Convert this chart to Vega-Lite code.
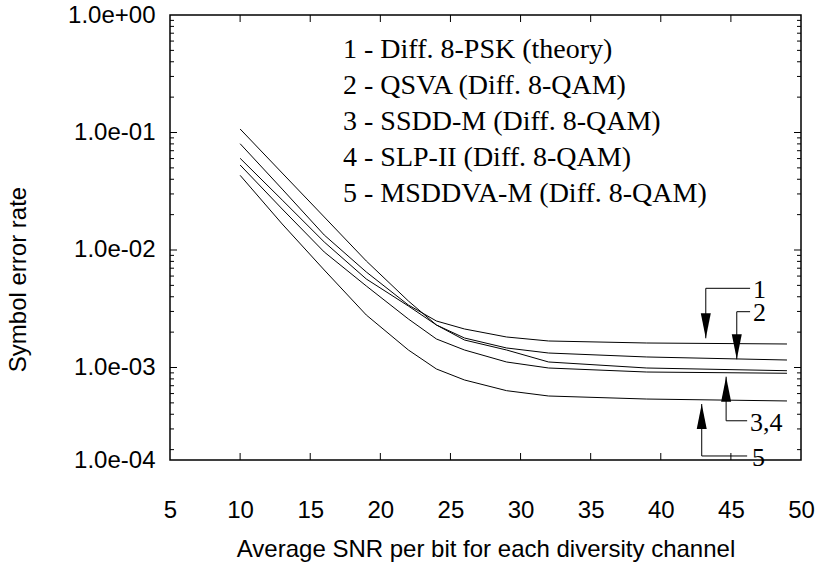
{
  "$schema": "https://vega.github.io/schema/vega-lite/v6.json",
  "width": 631,
  "height": 445,
  "autosize": {"type": "none"},
  "padding": {"left": 170, "top": 15, "right": 16, "bottom": 103},
  "background": "white",
  "config": {
    "view": {"stroke": "black", "strokeWidth": 1.5},
    "axis": {
      "grid": false, "domain": false, "ticks": false, "tickSize": 0,
      "labelColor": "black", "titleColor": "black",
      "labelFont": "Liberation Sans", "titleFont": "Liberation Sans",
      "labelFontSize": 24, "titleFontSize": 24, "titleFontWeight": "normal",
      "labelFlush": false, "labelOverlap": false
    }
  },
  "datasets": {
    "curves": [
      {"curve": "1", "snr": 10, "ser": 0.0803}, {"curve": "1", "snr": 13, "ser": 0.033}, {"curve": "1", "snr": 16, "ser": 0.01341}, {"curve": "1", "snr": 19, "ser": 0.006499}, {"curve": "1", "snr": 22, "ser": 0.003402}, {"curve": "1", "snr": 24, "ser": 0.002487}, {"curve": "1", "snr": 26, "ser": 0.002127}, {"curve": "1", "snr": 29, "ser": 0.001818}, {"curve": "1", "snr": 32, "ser": 0.001681}, {"curve": "1", "snr": 39, "ser": 0.001616}, {"curve": "1", "snr": 49, "ser": 0.001585},
      {"curve": "2", "snr": 10, "ser": 0.0603}, {"curve": "2", "snr": 13, "ser": 0.02665}, {"curve": "2", "snr": 16, "ser": 0.0117}, {"curve": "2", "snr": 19, "ser": 0.005664}, {"curve": "2", "snr": 22, "ser": 0.003337}, {"curve": "2", "snr": 24, "ser": 0.0023}, {"curve": "2", "snr": 26, "ser": 0.001783}, {"curve": "2", "snr": 29, "ser": 0.001466}, {"curve": "2", "snr": 32, "ser": 0.001328}, {"curve": "2", "snr": 39, "ser": 0.001229}, {"curve": "2", "snr": 49, "ser": 0.001158},
      {"curve": "3", "snr": 10, "ser": 0.1071}, {"curve": "3", "snr": 13, "ser": 0.0452}, {"curve": "3", "snr": 16, "ser": 0.0191}, {"curve": "3", "snr": 19, "ser": 0.008061}, {"curve": "3", "snr": 22, "ser": 0.003681}, {"curve": "3", "snr": 24, "ser": 0.0023}, {"curve": "3", "snr": 26, "ser": 0.001714}, {"curve": "3", "snr": 29, "ser": 0.001409}, {"curve": "3", "snr": 32, "ser": 0.001114}, {"curve": "3", "snr": 39, "ser": 0.00099}, {"curve": "3", "snr": 49, "ser": 0.000939},
      {"curve": "4", "snr": 10, "ser": 0.0529}, {"curve": "4", "snr": 13, "ser": 0.02233}, {"curve": "4", "snr": 16, "ser": 0.009616}, {"curve": "4", "snr": 19, "ser": 0.004939}, {"curve": "4", "snr": 22, "ser": 0.002587}, {"curve": "4", "snr": 24, "ser": 0.001748}, {"curve": "4", "snr": 26, "ser": 0.001409}, {"curve": "4", "snr": 29, "ser": 0.001114}, {"curve": "4", "snr": 32, "ser": 0.00099}, {"curve": "4", "snr": 39, "ser": 0.000915}, {"curve": "4", "snr": 49, "ser": 0.000893},
      {"curve": "5", "snr": 10, "ser": 0.04321}, {"curve": "5", "snr": 13, "ser": 0.01665}, {"curve": "5", "snr": 16, "ser": 0.006757}, {"curve": "5", "snr": 19, "ser": 0.002797}, {"curve": "5", "snr": 22, "ser": 0.001409}, {"curve": "5", "snr": 24, "ser": 0.000971}, {"curve": "5", "snr": 26, "ser": 0.000783}, {"curve": "5", "snr": 29, "ser": 0.000635}, {"curve": "5", "snr": 32, "ser": 0.000572}, {"curve": "5", "snr": 39, "ser": 0.000539}, {"curve": "5", "snr": 49, "ser": 0.000519}
    ],
    "arrows": [
      {"x": 43.21, "y": 0.004721, "x2": 46.37, "y2": 0.004721},
      {"x": 43.21, "y": 0.004721, "x2": 43.21, "y2": 0.001772},
      {"x": 45.42, "y": 0.002985, "x2": 46.37, "y2": 0.002985},
      {"x": 45.42, "y": 0.002985, "x2": 45.42, "y2": 0.001175},
      {"x": 44.66, "y": 0.000835, "x2": 44.66, "y2": 0.000352},
      {"x": 44.66, "y": 0.000352, "x2": 46.16, "y2": 0.000352},
      {"x": 42.92, "y": 0.000489, "x2": 42.92, "y2": 0.0001766},
      {"x": 42.92, "y": 0.0001766, "x2": 46.16, "y2": 0.0001766}
    ],
    "heads": [
      {"x": 43.21, "y": 0.001772, "dir": "down"},
      {"x": 45.42, "y": 0.001175, "dir": "down"},
      {"x": 44.66, "y": 0.000835, "dir": "up"},
      {"x": 42.92, "y": 0.000489, "dir": "up"}
    ],
    "tags": [
      {"x": 46.58, "y": 0.00461, "label": "1"},
      {"x": 46.58, "y": 0.00291, "label": "2"},
      {"x": 46.37, "y": 0.000337, "label": "3,4"},
      {"x": 46.51, "y": 0.0001687, "label": "5"}
    ],
    "legend": [
      {"x": 17.34, "y": 0.5036, "label": "1 - Diff. 8-PSK (theory)"},
      {"x": 17.34, "y": 0.2487, "label": "2 - QSVA (Diff. 8-QAM)"},
      {"x": 17.34, "y": 0.1229, "label": "3 - SSDD-M (Diff. 8-QAM)"},
      {"x": 17.34, "y": 0.0607, "label": "4 - SLP-II (Diff. 8-QAM)"},
      {"x": 17.34, "y": 0.02997, "label": "5 - MSDDVA-M (Diff. 8-QAM)"}
    ],
    "yticks": [
      {"v": 0.1, "kind": "major"}, {"v": 0.01, "kind": "major"}, {"v": 0.001, "kind": "major"},
      {"v": 0.9, "kind": "minor"}, {"v": 0.8, "kind": "minor"}, {"v": 0.7, "kind": "minor"}, {"v": 0.6, "kind": "minor"}, {"v": 0.5, "kind": "minor"}, {"v": 0.4, "kind": "minor"}, {"v": 0.3, "kind": "minor"}, {"v": 0.2, "kind": "minor"},
      {"v": 0.09, "kind": "minor"}, {"v": 0.08, "kind": "minor"}, {"v": 0.07, "kind": "minor"}, {"v": 0.06, "kind": "minor"}, {"v": 0.05, "kind": "minor"}, {"v": 0.04, "kind": "minor"}, {"v": 0.03, "kind": "minor"}, {"v": 0.02, "kind": "minor"},
      {"v": 0.009, "kind": "minor"}, {"v": 0.008, "kind": "minor"}, {"v": 0.007, "kind": "minor"}, {"v": 0.006, "kind": "minor"}, {"v": 0.005, "kind": "minor"}, {"v": 0.004, "kind": "minor"}, {"v": 0.003, "kind": "minor"}, {"v": 0.002, "kind": "minor"},
      {"v": 0.0009, "kind": "minor"}, {"v": 0.0008, "kind": "minor"}, {"v": 0.0007, "kind": "minor"}, {"v": 0.0006, "kind": "minor"}, {"v": 0.0005, "kind": "minor"}, {"v": 0.0004, "kind": "minor"}, {"v": 0.0003, "kind": "minor"}, {"v": 0.0002, "kind": "minor"}
    ],
    "xticks": [{"v": 10}, {"v": 15}, {"v": 20}, {"v": 25}, {"v": 30}, {"v": 35}, {"v": 40}, {"v": 45}]
  },
  "layer": [
    {
      "data": {"name": "curves"},
      "mark": {"type": "line", "color": "black", "strokeWidth": 1},
      "encoding": {
        "x": {
          "field": "snr", "type": "quantitative",
          "scale": {"domain": [5, 50], "nice": false, "zero": false},
          "axis": {
            "orient": "bottom", "values": [5, 10, 15, 20, 25, 30, 35, 40, 45, 50],
            "labelPadding": 38,
            "title": "Average SNR per bit for each diversity channel",
            "titleY": 89, "titleBaseline": "middle"
          }
        },
        "y": {
          "field": "ser", "type": "quantitative",
          "scale": {"type": "log", "domain": [0.0001632, 1], "nice": false},
          "axis": {
            "orient": "left",
            "values": [1, 0.1, 0.01, 0.001, 0.0001632],
            "labelExpr": "datum.value == 1 ? '1.0e+00' : datum.value == 0.1 ? '1.0e-01' : datum.value == 0.01 ? '1.0e-02' : datum.value == 0.001 ? '1.0e-03' : '1.0e-04'",
            "labelPadding": 15,
            "title": "Symbol error rate",
            "titleX": -152, "titleY": 264, "titleBaseline": "middle", "titleAlign": "center"
          }
        },
        "detail": {"field": "curve", "type": "nominal"}
      }
    },
    {
      "data": {"name": "arrows"},
      "mark": {"type": "rule", "color": "black", "strokeWidth": 1},
      "encoding": {
        "x": {"field": "x", "type": "quantitative", "axis": null},
        "x2": {"field": "x2"},
        "y": {"field": "y", "type": "quantitative", "axis": null},
        "y2": {"field": "y2"}
      }
    },
    {
      "data": {"name": "heads"},
      "mark": {"type": "point", "filled": true, "color": "black", "opacity": 1, "size": 625, "strokeWidth": 0},
      "encoding": {
        "x": {"field": "x", "type": "quantitative", "axis": null},
        "y": {"field": "y", "type": "quantitative", "axis": null},
        "shape": {
          "field": "dir", "type": "nominal", "legend": null,
          "scale": {"domain": ["down", "up"], "range": ["M-0.4,-2L0.4,-2L0,0Z", "M-0.4,2L0.4,2L0,0Z"]}
        }
      }
    },
    {
      "data": {"name": "yticks"},
      "transform": [{"filter": "datum.kind == 'major'"}],
      "mark": {"type": "tick", "orient": "horizontal", "size": 7, "thickness": 1, "xOffset": 3.5, "color": "black", "opacity": 1},
      "encoding": {
        "x": {"datum": 5, "type": "quantitative", "axis": null},
        "y": {"field": "v", "type": "quantitative", "axis": null}
      }
    },
    {
      "data": {"name": "yticks"},
      "transform": [{"filter": "datum.kind == 'minor'"}],
      "mark": {"type": "tick", "orient": "horizontal", "size": 4, "thickness": 1, "xOffset": 2, "color": "black", "opacity": 1},
      "encoding": {
        "x": {"datum": 5, "type": "quantitative", "axis": null},
        "y": {"field": "v", "type": "quantitative", "axis": null}
      }
    },
    {
      "data": {"name": "yticks"},
      "transform": [{"filter": "datum.kind == 'major'"}],
      "mark": {"type": "tick", "orient": "horizontal", "size": 7, "thickness": 1, "xOffset": -3.5, "color": "black", "opacity": 1},
      "encoding": {
        "x": {"datum": 50, "type": "quantitative", "axis": null},
        "y": {"field": "v", "type": "quantitative", "axis": null}
      }
    },
    {
      "data": {"name": "yticks"},
      "transform": [{"filter": "datum.kind == 'minor'"}],
      "mark": {"type": "tick", "orient": "horizontal", "size": 4, "thickness": 1, "xOffset": -2, "color": "black", "opacity": 1},
      "encoding": {
        "x": {"datum": 50, "type": "quantitative", "axis": null},
        "y": {"field": "v", "type": "quantitative", "axis": null}
      }
    },
    {
      "data": {"name": "xticks"},
      "mark": {"type": "tick", "orient": "vertical", "size": 7, "thickness": 1, "yOffset": -3.5, "color": "black", "opacity": 1},
      "encoding": {
        "x": {"field": "v", "type": "quantitative", "axis": null},
        "y": {"datum": 0.0001632, "type": "quantitative", "axis": null}
      }
    },
    {
      "data": {"name": "xticks"},
      "mark": {"type": "tick", "orient": "vertical", "size": 7, "thickness": 1, "yOffset": 3.5, "color": "black", "opacity": 1},
      "encoding": {
        "x": {"field": "v", "type": "quantitative", "axis": null},
        "y": {"datum": 1, "type": "quantitative", "axis": null}
      }
    },
    {
      "data": {"name": "tags"},
      "mark": {"type": "text", "font": "Liberation Serif", "fontSize": 26, "align": "left", "baseline": "middle", "color": "black"},
      "encoding": {
        "x": {"field": "x", "type": "quantitative", "axis": null},
        "y": {"field": "y", "type": "quantitative", "axis": null},
        "text": {"field": "label"}
      }
    },
    {
      "data": {"name": "legend"},
      "mark": {"type": "text", "font": "Liberation Serif", "fontSize": 28, "align": "left", "baseline": "middle", "color": "black"},
      "encoding": {
        "x": {"field": "x", "type": "quantitative", "axis": null},
        "y": {"field": "y", "type": "quantitative", "axis": null},
        "text": {"field": "label"}
      }
    }
  ],
  "resolve": {"axis": {"x": "independent", "y": "independent"}}
}
